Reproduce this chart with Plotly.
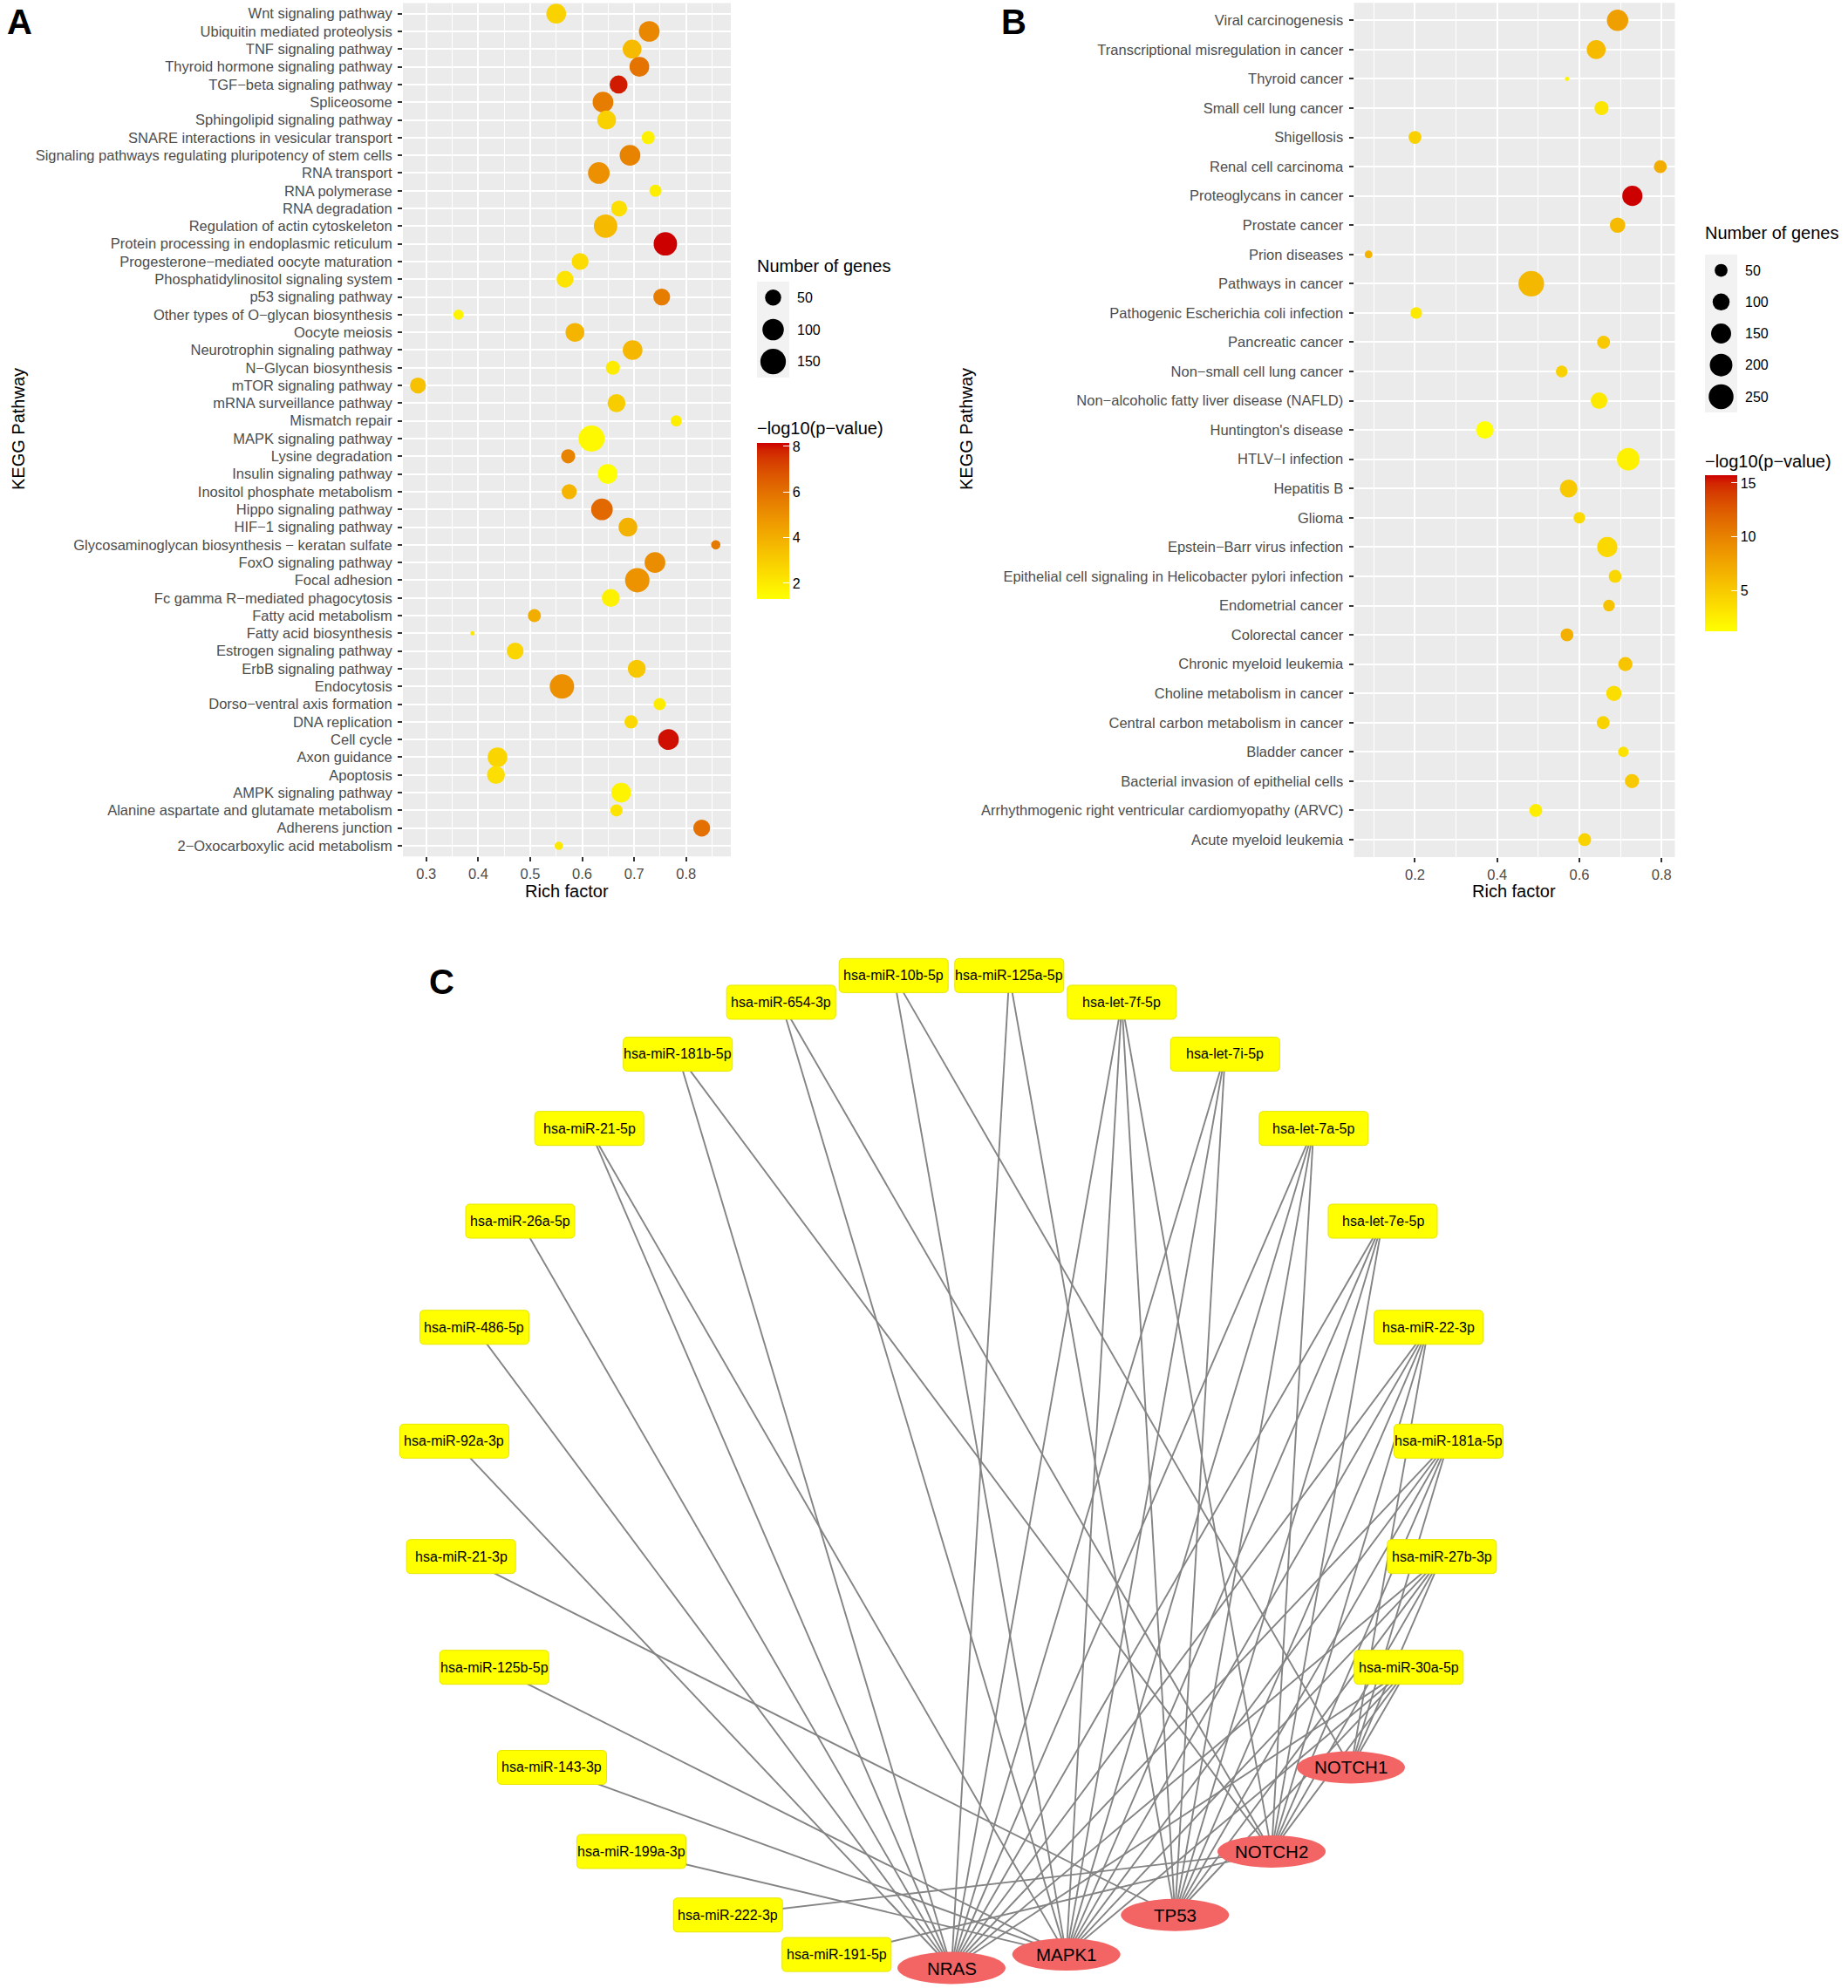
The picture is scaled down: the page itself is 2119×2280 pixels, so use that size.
import math
import plotly.graph_objects as go

W, H = 2119, 2280
FONT = "Liberation Sans, Arial, sans-serif"

# ---------------- Panel A data (top to bottom as displayed) ----------------
A_terms = ["Wnt signaling pathway", "Ubiquitin mediated proteolysis", "TNF signaling pathway",
           "Thyroid hormone signaling pathway", "TGF\u2212beta signaling pathway", "Spliceosome",
           "Sphingolipid signaling pathway", "SNARE interactions in vesicular transport",
           "Signaling pathways regulating pluripotency of stem cells", "RNA transport", "RNA polymerase",
           "RNA degradation", "Regulation of actin cytoskeleton", "Protein processing in endoplasmic reticulum",
           "Progesterone\u2212mediated oocyte maturation", "Phosphatidylinositol signaling system",
           "p53 signaling pathway", "Other types of O\u2212glycan biosynthesis", "Oocyte meiosis",
           "Neurotrophin signaling pathway", "N\u2212Glycan biosynthesis", "mTOR signaling pathway",
           "mRNA surveillance pathway", "Mismatch repair", "MAPK signaling pathway", "Lysine degradation",
           "Insulin signaling pathway", "Inositol phosphate metabolism", "Hippo signaling pathway",
           "HIF\u22121 signaling pathway", "Glycosaminoglycan biosynthesis \u2212 keratan sulfate",
           "FoxO signaling pathway", "Focal adhesion", "Fc gamma R\u2212mediated phagocytosis",
           "Fatty acid metabolism", "Fatty acid biosynthesis", "Estrogen signaling pathway",
           "ErbB signaling pathway", "Endocytosis", "Dorso\u2212ventral axis formation", "DNA replication",
           "Cell cycle", "Axon guidance", "Apoptosis", "AMPK signaling pathway",
           "Alanine aspartate and glutamate metabolism", "Adherens junction",
           "2\u2212Oxocarboxylic acid metabolism"]
A_rich = [0.550, 0.729, 0.696, 0.710, 0.670, 0.640, 0.647, 0.727, 0.692, 0.632, 0.741, 0.671,
          0.645, 0.760, 0.596, 0.567, 0.753, 0.362, 0.586, 0.697, 0.659, 0.284, 0.666, 0.781,
          0.618, 0.573, 0.649, 0.575, 0.638, 0.688, 0.857, 0.740, 0.706, 0.655, 0.508, 0.389,
          0.471, 0.705, 0.561, 0.749, 0.694, 0.766, 0.437, 0.434, 0.675, 0.666, 0.830, 0.555]
A_genes = [82, 92, 73, 82, 65, 92, 73, 30, 92, 102, 25, 49, 124, 124, 56, 56, 56, 16, 73, 82,
           36, 49, 65, 20, 160, 36, 82, 42, 102, 73, 13, 92, 136, 65, 30, 5, 56, 65, 136, 25,
           30, 92, 82, 65, 82, 25, 56, 10]
A_logp = [2.8, 5.3, 3.6, 5.9, 7.9, 5.6, 2.9, 1.8, 5.4, 5.0, 1.9, 2.4, 3.6, 8.15, 2.5, 2.2,
          5.6, 1.7, 3.8, 3.7, 2.0, 3.4, 3.0, 1.9, 1.5, 5.4, 1.31, 3.8, 6.2, 3.9, 5.7, 5.1,
          4.9, 1.8, 4.0, 2.1, 2.7, 3.2, 5.0, 2.0, 2.6, 8.0, 2.7, 2.4, 1.7, 2.2, 6.0, 2.1]
A_xticks = [0.3, 0.4, 0.5, 0.6, 0.7, 0.8]
A_minor = [0.25, 0.35, 0.45, 0.55, 0.65, 0.75, 0.85]
A_size_breaks = [50, 100, 150]
A_color_ticks = [2, 4, 6, 8]

# ---------------- Panel B data ----------------
B_terms = ["Viral carcinogenesis", "Transcriptional misregulation in cancer", "Thyroid cancer",
           "Small cell lung cancer", "Shigellosis", "Renal cell carcinoma", "Proteoglycans in cancer",
           "Prostate cancer", "Prion diseases", "Pathways in cancer", "Pathogenic Escherichia coli infection",
           "Pancreatic cancer", "Non\u2212small cell lung cancer",
           "Non\u2212alcoholic fatty liver disease (NAFLD)", "Huntington's disease", "HTLV\u2212I infection",
           "Hepatitis B", "Glioma", "Epstein\u2212Barr virus infection",
           "Epithelial cell signaling in Helicobacter pylori infection", "Endometrial cancer",
           "Colorectal cancer", "Chronic myeloid leukemia", "Choline metabolism in cancer",
           "Central carbon metabolism in cancer", "Bladder cancer", "Bacterial invasion of epithelial cells",
           "Arrhythmogenic right ventricular cardiomyopathy (ARVC)", "Acute myeloid leukemia"]
B_rich = [0.693, 0.641, 0.570, 0.654, 0.200, 0.797, 0.729, 0.693, 0.087, 0.483, 0.203, 0.659,
          0.557, 0.648, 0.370, 0.719, 0.574, 0.600, 0.668, 0.687, 0.672, 0.570, 0.712, 0.684,
          0.658, 0.707, 0.728, 0.494, 0.613]
B_genes = [175, 131, 7, 63, 50, 50, 153, 77, 14, 270, 38, 50, 38, 94, 111, 200, 111, 38, 153,
           50, 38, 50, 63, 77, 50, 29, 63, 50, 50]
B_logp = [8.0, 6.0, 2.0, 3.0, 4.5, 7.0, 15.73, 6.0, 6.5, 6.2, 2.8, 5.0, 4.5, 2.8, 1.18, 2.2,
          5.0, 3.8, 3.9, 4.0, 5.5, 6.8, 5.4, 3.6, 4.3, 3.2, 5.0, 2.5, 4.3]
B_xticks = [0.2, 0.4, 0.6, 0.8]
B_minor = [0.1, 0.3, 0.5, 0.7]
B_size_breaks = [50, 100, 150, 200, 250]
B_color_ticks = [5, 10, 15]

# ---------------- Panel C data ----------------
C_nodes = ["hsa-miR-125a-5p", "hsa-let-7f-5p", "hsa-let-7i-5p", "hsa-let-7a-5p", "hsa-let-7e-5p",
           "hsa-miR-22-3p", "hsa-miR-181a-5p", "hsa-miR-27b-3p", "hsa-miR-30a-5p", "NOTCH1", "NOTCH2",
           "TP53", "MAPK1", "NRAS", "hsa-miR-191-5p", "hsa-miR-222-3p", "hsa-miR-199a-3p",
           "hsa-miR-143-3p", "hsa-miR-125b-5p", "hsa-miR-21-3p", "hsa-miR-92a-3p", "hsa-miR-486-5p",
           "hsa-miR-26a-5p", "hsa-miR-21-5p", "hsa-miR-181b-5p", "hsa-miR-654-3p", "hsa-miR-10b-5p"]
C_genes = ["NOTCH1", "NOTCH2", "TP53", "MAPK1", "NRAS"]
ALL5 = ["NRAS", "MAPK1", "TP53", "NOTCH2", "NOTCH1"]
C_targets = {
    "hsa-miR-125a-5p": ["NRAS", "TP53"],
    "hsa-let-7f-5p": ["NRAS", "MAPK1", "TP53", "NOTCH2"],
    "hsa-let-7i-5p": ["NRAS", "MAPK1", "TP53"],
    "hsa-let-7a-5p": ["NRAS", "MAPK1", "TP53", "NOTCH2"],
    "hsa-let-7e-5p": ["NRAS", "MAPK1", "TP53", "NOTCH2"],
    "hsa-miR-22-3p": ALL5,
    "hsa-miR-181a-5p": ALL5,
    "hsa-miR-27b-3p": ALL5,
    "hsa-miR-30a-5p": ALL5,
    "hsa-miR-191-5p": ["NOTCH2"],
    "hsa-miR-222-3p": ["NOTCH2"],
    "hsa-miR-199a-3p": ["MAPK1"],
    "hsa-miR-143-3p": ["MAPK1"],
    "hsa-miR-125b-5p": ["MAPK1"],
    "hsa-miR-21-3p": ["TP53"],
    "hsa-miR-92a-3p": ["NRAS"],
    "hsa-miR-486-5p": ["NRAS"],
    "hsa-miR-26a-5p": ["NRAS"],
    "hsa-miR-21-5p": ["NRAS", "MAPK1"],
    "hsa-miR-181b-5p": ["NRAS", "NOTCH2"],
    "hsa-miR-654-3p": ["MAPK1", "NOTCH2"],
    "hsa-miR-10b-5p": ["MAPK1", "NOTCH1"],
}


# ---------------- helpers ----------------
def hx(x):
    return x / W


def vy(y):
    return 1 - y / H


def lab_scale(c1, c2, n=21):
    def lin(c):
        c = c / 255.0
        return c / 12.92 if c <= 0.04045 else ((c + 0.055) / 1.055) ** 2.4

    def gam(c):
        c = 12.92 * c if c <= 0.0031308 else 1.055 * c ** (1 / 2.4) - 0.055
        return max(0, min(255, round(c * 255)))

    wp = (0.95047, 1.0, 1.08883)
    d = 6 / 29

    def f(t):
        return t ** (1 / 3) if t > d ** 3 else t / (3 * d * d) + 4 / 29

    def finv(t):
        return t ** 3 if t > d else 3 * d * d * (t - 4 / 29)

    def to_lab(h):
        r, g, b = [lin(int(h[i:i + 2], 16)) for i in (1, 3, 5)]
        X = 0.4124564 * r + 0.3575761 * g + 0.1804375 * b
        Y = 0.2126729 * r + 0.7151522 * g + 0.0721750 * b
        Z = 0.0193339 * r + 0.1191920 * g + 0.9503041 * b
        fx, fy, fz = f(X / wp[0]), f(Y / wp[1]), f(Z / wp[2])
        return (116 * fy - 16, 500 * (fx - fy), 200 * (fy - fz))

    def to_rgb(L, a, b):
        fy = (L + 16) / 116
        fx = fy + a / 500
        fz = fy - b / 200
        X, Y, Z = wp[0] * finv(fx), wp[1] * finv(fy), wp[2] * finv(fz)
        r = 3.2404542 * X - 1.5371385 * Y - 0.4985314 * Z
        g = -0.9692660 * X + 1.8760108 * Y + 0.0415560 * Z
        bb = 0.0556434 * X - 0.2040259 * Y + 1.0572252 * Z
        return "rgb(%d,%d,%d)" % (gam(r), gam(g), gam(bb))

    l1, l2 = to_lab(c1), to_lab(c2)
    out = []
    for i in range(n):
        t = i / (n - 1)
        out.append([t, to_rgb(*[l1[k] + (l2[k] - l1[k]) * t for k in range(3)])])
    return out


CSCALE = lab_scale("#FFFF00", "#CD0000")


def ggsize(vals, vmin, vmax, k):
    return [k * (1 + 5 * math.sqrt(max(0.0, (v - vmin) / (vmax - vmin)))) for v in vals]


fig = go.Figure()

# ---------------- dot plots ----------------
for terms, rich, genes, logp, xa, ya, ca, k in [
    (A_terms, A_rich, A_genes, A_logp, "x", "y", "coloraxis", 5.0),
    (B_terms, B_rich, B_genes, B_logp, "x2", "y2", "coloraxis2", 4.9),
]:
    fig.add_trace(go.Scatter(
        x=rich, y=terms, mode="markers", xaxis=xa, yaxis=ya, showlegend=False,
        marker=dict(size=ggsize(genes, min(genes), max(genes), k), color=logp,
                    coloraxis=ca, line=dict(width=0), opacity=1),
        hoverinfo="skip"))

# size legends
for breaks, genes, xa, ya, k in [
    (A_size_breaks, A_genes, "x4", "y4", 5.0),
    (B_size_breaks, B_genes, "x5", "y5", 4.9),
]:
    fig.add_trace(go.Scatter(
        x=[0] * len(breaks), y=[str(b) for b in breaks], mode="markers", xaxis=xa, yaxis=ya,
        showlegend=False, hoverinfo="skip",
        marker=dict(size=ggsize(breaks, min(genes), max(genes), k), color="#000000", opacity=1,
                    line=dict(width=0))))

# ---------------- network ----------------
R_C, CX, CY = 571, 1091, 1686
pos = {}
n = len(C_nodes)
for i, name in enumerate(C_nodes):
    th = math.radians((i + 0.5) * 360.0 / n)
    pos[name] = (CX + R_C * math.sin(th), CY - R_C * math.cos(th))

ex, ey = [], []
for m, tg in C_targets.items():
    for g in tg:
        ex += [pos[m][0], pos[g][0], None]
        ey += [pos[m][1], pos[g][1], None]
fig.add_trace(go.Scatter(x=ex, y=ey, mode="lines", xaxis="x3", yaxis="y3", showlegend=False,
                         hoverinfo="skip", line=dict(color="#848484", width=1.9)))

shapes = []
annotations = []

# panel backgrounds
for xr, yr in [("x domain", "y domain"), ("x2 domain", "y2 domain")]:
    shapes.append(dict(type="rect", xref=xr, yref=yr, x0=0, x1=1, y0=0, y1=1,
                       fillcolor="#EBEBEB", line=dict(width=0), layer="below"))
for xr, yr in [("x4 domain", "y4 domain"), ("x5 domain", "y5 domain")]:
    shapes.append(dict(type="rect", xref=xr, yref=yr, x0=0, x1=1, y0=0, y1=1,
                       fillcolor="#F2F2F2", line=dict(width=0), layer="below"))

BW, BH, RR = 125, 39, 5
EW, EH = 124, 37
for name in C_nodes:
    x, y = pos[name]
    if name in C_genes:
        shapes.append(dict(type="circle", xref="x3", yref="y3", x0=x - EW / 2, x1=x + EW / 2,
                           y0=y - EH / 2, y1=y + EH / 2, fillcolor="#F36464", line=dict(width=0)))
        annotations.append(dict(x=x, y=y, xref="x3", yref="y3", text=name, showarrow=False,
                                font=dict(family=FONT, size=20.5, color="black")))
    else:
        x0, x1, y0, y1 = x - BW / 2, x + BW / 2, y - BH / 2, y + BH / 2
        p = (f"M{x0 + RR},{y0} L{x1 - RR},{y0} Q{x1},{y0} {x1},{y0 + RR} L{x1},{y1 - RR} "
             f"Q{x1},{y1} {x1 - RR},{y1} L{x0 + RR},{y1} Q{x0},{y1} {x0},{y1 - RR} "
             f"L{x0},{y0 + RR} Q{x0},{y0} {x0 + RR},{y0} Z")
        shapes.append(dict(type="path", xref="x3", yref="y3", path=p, fillcolor="#FFFF00",
                           line=dict(color="#E6E600", width=1)))
        annotations.append(dict(x=x, y=y, xref="x3", yref="y3", text=name, showarrow=False,
                                font=dict(family=FONT, size=16, color="black")))


def pann(text, x, y, size, bold=False, angle=0, xanchor="center", color="black"):
    annotations.append(dict(text=("<b>%s</b>" % text) if bold else text, x=hx(x), y=vy(y),
                            xref="paper", yref="paper", showarrow=False, xanchor=xanchor,
                            yanchor="middle", textangle=angle,
                            font=dict(family=FONT, size=size, color=color)))


pann("A", 22, 25, 40, bold=True)
pann("B", 1162, 25, 40, bold=True)
pann("C", 506, 1126, 40, bold=True)
pann("KEGG Pathway", 21, 492, 20, angle=-90)
pann("KEGG Pathway", 1108, 492, 20, angle=-90)
pann("Rich factor", 650, 1022, 20)
pann("Rich factor", 1736, 1022, 20)
pann("Number of genes", 866, 305, 20, xanchor="left")
pann("\u2212log10(p\u2212value)", 866, 491, 20, xanchor="left")
pann("Number of genes", 1953, 267, 20, xanchor="left")
pann("\u2212log10(p\u2212value)", 1953, 529, 20, xanchor="left")

tickfont = dict(family=FONT, size=16.5, color="#4D4D4D")


def xaxis_cfg(dom, rng, ticks, minor, anchor):
    return dict(domain=[hx(dom[0]), hx(dom[1])], range=rng, tickvals=ticks,
                ticktext=[("%g" % t) for t in ticks], ticks="outside", ticklen=5, tickwidth=1.9,
                tickcolor="#333333", tickfont=tickfont, showgrid=True, gridcolor="white",
                gridwidth=1.9, zeroline=False, showline=False, anchor=anchor, automargin=False,
                minor=dict(tickvals=minor, showgrid=True, gridcolor="white", gridwidth=1, ticks=""))


def yaxis_cfg(dom, terms, anchor):
    order = list(reversed(terms))
    return dict(domain=[vy(dom[1]), vy(dom[0])], type="category", categoryorder="array",
                categoryarray=order, range=[-0.6, len(terms) - 0.4], ticks="outside", ticklen=5,
                tickwidth=1.9, tickcolor="#333333", tickfont=tickfont, showgrid=True,
                gridcolor="white", gridwidth=1.9, zeroline=False, showline=False, anchor=anchor,
                automargin=False, ticklabelstandoff=3)


def legend_y(dom, breaks, anchor):
    return dict(domain=[vy(dom[1]), vy(dom[0])], type="category", categoryorder="array",
                categoryarray=[str(b) for b in reversed(breaks)], range=[-0.5, len(breaks) - 0.5],
                side="right", ticks="", showgrid=False, zeroline=False, showline=False,
                anchor=anchor, automargin=False, ticklabelstandoff=8,
                tickfont=dict(family=FONT, size=16, color="black"))


def cbar(x, ybot, ticks):
    return dict(x=hx(x), xanchor="left", y=vy(ybot), yanchor="bottom", len=179, lenmode="pixels",
                thickness=37, thicknessmode="pixels", outlinewidth=0, xpad=0, ypad=0,
                tickvals=ticks, ticks="inside", ticklen=7, tickcolor="white", tickwidth=1,
                tickfont=dict(family=FONT, size=16, color="black"), title=dict(text=""))


fig.update_layout(
    width=W, height=H, margin=dict(l=0, r=0, t=0, b=0), paper_bgcolor="white",
    plot_bgcolor="white", font=dict(family=FONT), showlegend=False,
    xaxis=xaxis_cfg((462, 838), [0.255, 0.886], A_xticks, A_minor, "y"),
    yaxis=yaxis_cfg((3.5, 982.2), A_terms, "x"),
    xaxis2=xaxis_cfg((1552.5, 1920.5), [0.0515, 0.8325], B_xticks, B_minor, "y2"),
    yaxis2=yaxis_cfg((3.2, 983.1), B_terms, "x2"),
    xaxis3=dict(domain=[hx(440), hx(1760)], range=[440, 1760], visible=False, anchor="y3"),
    yaxis3=dict(domain=[vy(2280), vy(1090)], range=[2280, 1090], visible=False, anchor="x3"),
    xaxis4=dict(domain=[hx(868), hx(905)], range=[-1, 1], visible=False, anchor="y4"),
    yaxis4=legend_y((323, 433), A_size_breaks, "x4"),
    xaxis5=dict(domain=[hx(1955), hx(1992)], range=[-1, 1], visible=False, anchor="y5"),
    yaxis5=legend_y((292, 473), B_size_breaks, "x5"),
    coloraxis=dict(colorscale=CSCALE, cmin=min(A_logp), cmax=max(A_logp),
                   colorbar=cbar(868, 687, A_color_ticks)),
    coloraxis2=dict(colorscale=CSCALE, cmin=min(B_logp), cmax=max(B_logp),
                    colorbar=cbar(1955, 724, B_color_ticks)),
    shapes=shapes, annotations=annotations,
)

fig.write_html("out.html", config={"displayModeBar": False},
               post_script="document.body.style.margin='0';document.body.style.overflow='hidden';")
